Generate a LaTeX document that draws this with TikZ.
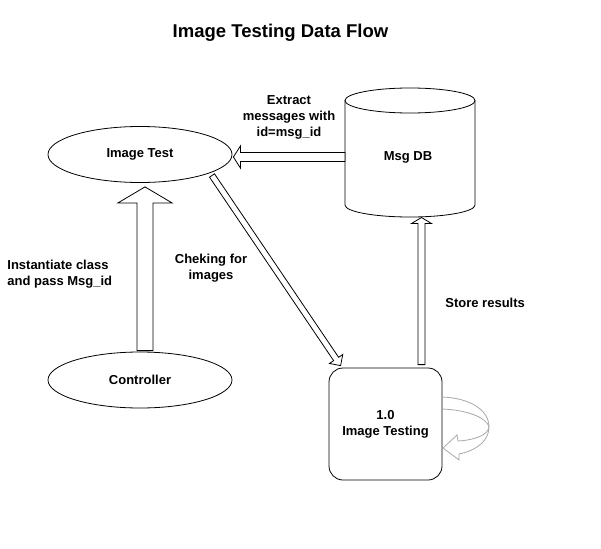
\documentclass[tikz,border=0pt]{standalone}
\usepackage{fontspec}
\setmainfont{Liberation Sans}
\usetikzlibrary{shapes.geometric,calc}
\definecolor{loopgrey}{HTML}{A8A8A8}
\newcommand\blockarrow[6][]{%
  \coordinate (bah) at ($(#3)!#6!(#2)$);
  \draw[#1] ($(#2)!#4!90:(#3)$) -- ($(bah)!#4!90:(#3)$) -- ($(bah)!#5!90:(#3)$) -- (#3)
    -- ($(bah)!#5!-90:(#3)$) -- ($(bah)!#4!-90:(#3)$) -- ($(#2)!#4!-90:(#3)$) -- cycle;
}
\begin{document}
\begin{tikzpicture}[x=1pt,y=-1pt,line width=0.8pt,
  lbl/.style={font=\fontsize{13}{16}\selectfont\bfseries, align=center, inner sep=0pt},
  ell/.style={ellipse, draw, minimum width=184pt, minimum height=56pt, inner sep=0pt,
    font=\fontsize{13}{16}\selectfont\bfseries},
  procbox/.style={draw, rounded corners=14pt, minimum width=113pt, minimum height=112pt,
    align=center, inner sep=0pt, font=\fontsize{13}{16}\selectfont\bfseries},
  blk/.style={draw, fill=white, line width=0.8pt},
  loopline/.style={draw=loopgrey, line width=0.8pt}]
\useasboundingbox (0,0) rectangle (601,548);
\fill[white] (0,0) rectangle (601,548);
% title
\node[lbl, font=\fontsize{18.5}{22}\selectfont\bfseries] (title) at (280.5,33) {Image Testing Data Flow};
% nodes
\node[ell] (imgtest) at (140,154.5) {Image Test};
\node[ell] (ctrl) at (140,380) {Controller};
\node[lbl] (db) at (408,157) {Msg DB};
\draw (410,100.5) ellipse [x radius=65, y radius=12.5];
\draw (345,100.5) -- (345,205) arc[start angle=180, end angle=0, x radius=65, y radius=12] -- (475,100.5);
\coordinate (dbleft) at (345,157);
\coordinate (dbbottom) at (421.5,217.5);
\node[procbox] (proc) at (385.5,424) {1.0\\Image Testing};
% labels
\node[lbl] (extract) at (289,117) {Extract\\messages with\\id=msg\_id};
\node[lbl, align=left, anchor=west] (inst) at (7,274) {Instantiate class\\and pass Msg\_id};
\node[lbl] (chek) at (211,268) {Cheking for\\images};
\node[lbl, anchor=west] (store) at (445,303) {Store results};
% block arrows
\coordinate (a1s) at ($(ctrl.north)+(5,-1)$);
\coordinate (a1e) at ($(imgtest.south)+(5,4)$);
\blockarrow[blk]{a1s}{a1e}{8pt}{27pt}{16pt}
\coordinate (a2e) at ($(imgtest.east)+(1,2.5)$);
\blockarrow[blk]{dbleft}{a2e}{4.5pt}{11pt}{7pt}
\coordinate (a3s) at ($(imgtest.center)+(72,21)$);
\coordinate (a3e) at ($(proc.north west)+(12,-2)$);
\blockarrow[blk]{a3s}{a3e}{3pt}{8pt}{8pt}
\coordinate (a4s) at ($(proc.north)+(36,-3)$);
\blockarrow[blk]{a4s}{dbbottom}{3.5pt}{10pt}{6pt}
% self loop
\draw[loopline] (442,397) .. controls (470,398) and (489,410) .. (489,427);
\draw[loopline] (442,409) .. controls (468,410) and (487,418) .. (489,427);
\draw[loopline] (489,427) .. controls (488,435) and (475,440) .. (458,441) -- (457,435) -- (443,448)
  -- (459,460) -- (459,454) .. controls (478,450) and (489,440) .. (489,427);
\end{tikzpicture}
\end{document}
